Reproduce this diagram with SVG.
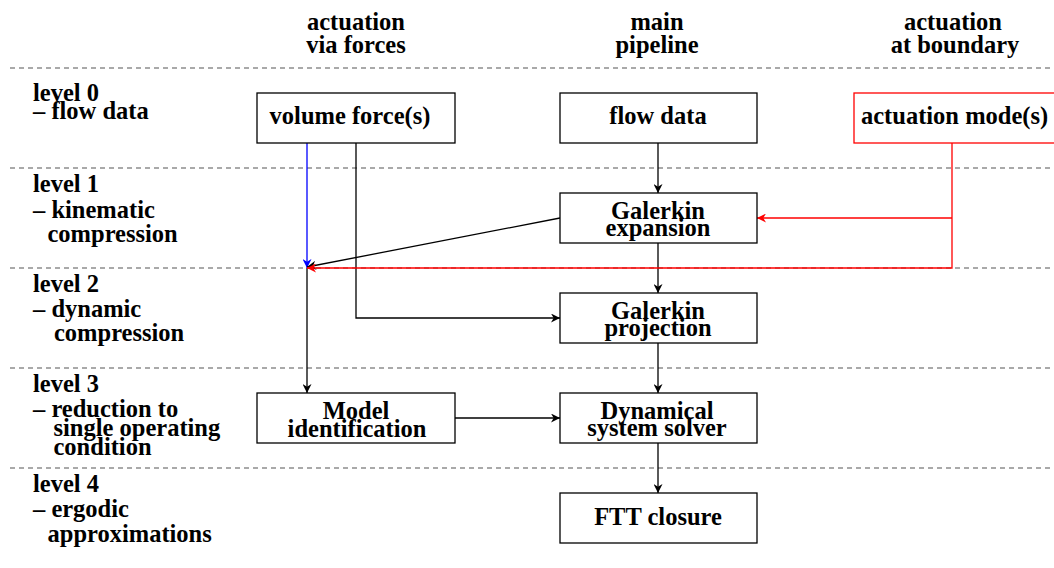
<svg xmlns="http://www.w3.org/2000/svg" width="1054" height="568" viewBox="0 0 1054 568">
<defs>
<marker id="ak" viewBox="0 0 10 10" refX="10" refY="5" markerWidth="9" markerHeight="9" markerUnits="userSpaceOnUse" orient="auto"><path d="M0,0 L10,5 L0,10 L3,5 z" fill="#000"/></marker>
<marker id="ar" viewBox="0 0 10 10" refX="10" refY="5" markerWidth="9" markerHeight="9" markerUnits="userSpaceOnUse" orient="auto"><path d="M0,0 L10,5 L0,10 L3,5 z" fill="#ff0000"/></marker>
<marker id="ab" viewBox="0 0 10 10" refX="10" refY="5" markerWidth="9" markerHeight="9" markerUnits="userSpaceOnUse" orient="auto"><path d="M0,0 L10,5 L0,10 L3,5 z" fill="#0000ff"/></marker>
</defs>
<rect width="1054" height="568" fill="#fff"/>
<g id="separators" stroke="#555" stroke-width="1.1" stroke-dasharray="5,4" fill="none">
<line x1="10" y1="68" x2="1054" y2="68"/>
<line x1="10" y1="168" x2="1054" y2="168"/>
<line x1="10" y1="268" x2="1054" y2="268"/>
<line x1="10" y1="368" x2="1054" y2="368"/>
<line x1="10" y1="468" x2="1054" y2="468"/>
</g>
<g id="headers" font-family="Liberation Serif" font-weight="bold" font-size="24.5" text-anchor="middle">
<text x="356" y="30">actuation</text>
<text x="356" y="53">via forces</text>
<text x="657" y="30">main</text>
<text x="657" y="53">pipeline</text>
<text x="953" y="30">actuation</text>
<text x="955" y="53">at boundary</text>
</g>
<g id="levels" font-family="Liberation Serif" font-weight="bold" font-size="24.5">
<text x="33" y="101">level 0</text>
<text x="33" y="118.5">– flow data</text>
<text x="33" y="192">level 1</text>
<text x="33" y="218">– kinematic</text>
<text x="47.5" y="241.5">compression</text>
<text x="33" y="291.5">level 2</text>
<text x="33" y="316.5">– dynamic</text>
<text x="54" y="341">compression</text>
<text x="33" y="392">level 3</text>
<text x="33" y="417">– reduction to</text>
<text x="53.5" y="436">single operating</text>
<text x="53.5" y="455">condition</text>
<text x="33" y="492">level 4</text>
<text x="33" y="517">– ergodic</text>
<text x="47.5" y="541.5">approximations</text>
</g>
<g id="connectors" stroke-width="1.3" fill="none">
<line stroke="#0000ff" x1="307" y1="143" x2="307" y2="268" marker-end="url(#ab)"/>
<g stroke="#000">
<path d="M356,143 V318 H560" marker-end="url(#ak)"/>
<line x1="658" y1="143" x2="658" y2="193" marker-end="url(#ak)"/>
<line x1="658" y1="243" x2="658" y2="293" marker-end="url(#ak)"/>
<line x1="658" y1="343" x2="658" y2="393" marker-end="url(#ak)"/>
<line x1="658" y1="443" x2="658" y2="493" marker-end="url(#ak)"/>
<line x1="560" y1="218" x2="307" y2="267" marker-end="url(#ak)"/>
<line x1="307" y1="268" x2="307" y2="393" marker-end="url(#ak)"/>
<line x1="455" y1="418" x2="560" y2="418" marker-end="url(#ak)"/>
</g>
<g stroke="#ff0000">
<path d="M952,143 V268 H307" marker-end="url(#ar)"/>
<line x1="952" y1="218" x2="757" y2="218" marker-end="url(#ar)"/>
</g>
</g>
<g id="nodes" font-family="Liberation Serif" font-weight="bold" font-size="24.5" text-anchor="middle">
<g id="volume-force">
<rect x="257" y="93" width="198" height="50" fill="#fff" stroke="#000" stroke-width="1.3"/>
<text x="350" y="124">volume force(s)</text>
</g>
<g id="flow-data">
<rect x="560" y="93" width="197" height="50" fill="#fff" stroke="#000" stroke-width="1.3"/>
<text x="658" y="124">flow data</text>
</g>
<g id="actuation-modes">
<rect x="854" y="93" width="220" height="50" fill="#fff" stroke="#ff0000" stroke-width="1.3"/>
<text x="861" y="124" text-anchor="start">actuation mode(s)</text>
</g>
<g id="galerkin-expansion">
<rect x="560" y="193" width="197" height="50" fill="#fff" stroke="#000" stroke-width="1.3"/>
<text x="658" y="218.5">Galerkin</text>
<text x="658" y="236">expansion</text>
</g>
<g id="galerkin-projection">
<rect x="560" y="293" width="197" height="50" fill="#fff" stroke="#000" stroke-width="1.3"/>
<text x="658" y="318.5">Galerkin</text>
<text x="658" y="336">projection</text>
</g>
<g id="model-identification">
<rect x="257" y="393" width="198" height="50" fill="#fff" stroke="#000" stroke-width="1.3"/>
<text x="356" y="418.5">Model</text>
<text x="357" y="436.5">identification</text>
</g>
<g id="dynamical-solver">
<rect x="560" y="393" width="197" height="50" fill="#fff" stroke="#000" stroke-width="1.3"/>
<text x="657" y="418.5">Dynamical</text>
<text x="657" y="436">system solver</text>
</g>
<g id="ftt-closure">
<rect x="560" y="493" width="197" height="50" fill="#fff" stroke="#000" stroke-width="1.3"/>
<text x="658" y="524.5">FTT closure</text>
</g>
</g>
</svg>
